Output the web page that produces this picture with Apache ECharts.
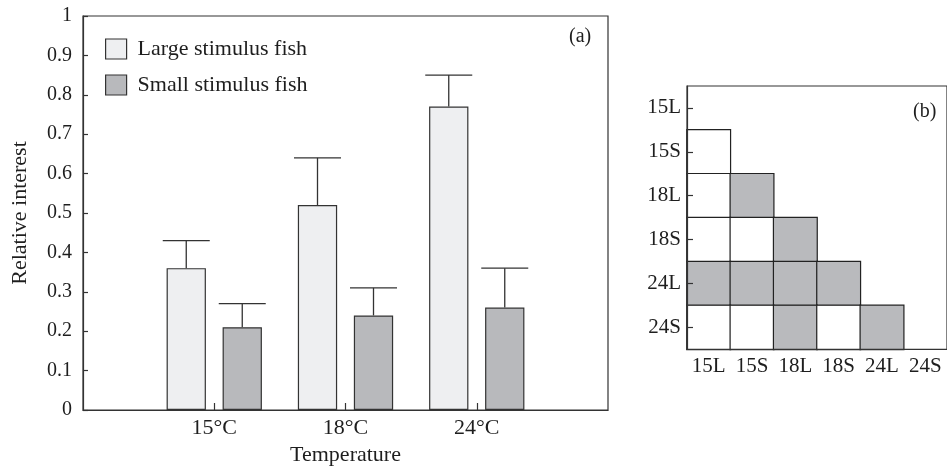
<!DOCTYPE html>
<html>
<head>
<meta charset="utf-8">
<script src="https://cdn.jsdelivr.net/npm/echarts@6/dist/echarts.min.js"></script>
<style>
html,body{margin:0;padding:0;background:#fff;}
#chart{width:947px;height:473px;}
</style>
</head>
<body>
<div id="chart"></div>
<script>
// ---- Panel (a) data ----
const temperatures = ['15°C', '18°C', '24°C'];
const largeMeans = [0.36, 0.52, 0.77];
const largeUpper = [0.43, 0.64, 0.85];
const smallMeans = [0.21, 0.24, 0.26];
const smallUpper = [0.27, 0.31, 0.36];
const seriesNames = ['Large stimulus fish', 'Small stimulus fish'];
const yTicks = [0, 0.1, 0.2, 0.3, 0.4, 0.5, 0.6, 0.7, 0.8, 0.9, 1];

// ---- Panel (b) data ----
const pairLabels = ['15L', '15S', '18L', '18S', '24L', '24S'];
// lower-triangle significance matrix: row i vs columns 0..i-1 (1 = significant / shaded)
const matrixRows = [
  [],
  [0],
  [0, 1],
  [0, 0, 1],
  [1, 1, 1, 1],
  [0, 0, 1, 0, 1]
];

const FONT = 'Liberation Serif';
const INK = '#1e1e1e';
const LARGE_COLOR = '#eeeff1';
const SMALL_COLOR = '#b8b9bc';
const BAR_W = 39.3;
const BAR_GAP = 16.7;
const OFFSET = (BAR_W + BAR_GAP) / 2;
const CAP_W = 47;

// padded category axis so the three temperatures sit at 1,2,3 of 0..4
const xCats = [''].concat(temperatures, ['']);
const pad = arr => [null].concat(arr, [null]);

const errData = [];
temperatures.forEach((t, i) => {
  errData.push([i + 1, largeMeans[i], largeUpper[i], -1]);
  errData.push([i + 1, smallMeans[i], smallUpper[i], 1]);
});

const heatData = [];
matrixRows.forEach((row, r) => {
  row.forEach((v, c) => heatData.push([c, r, v]));
});

const chart = echarts.init(document.getElementById('chart'), null, {renderer: 'canvas'});

const option = {
  animation: false,
  backgroundColor: '#ffffff',
  textStyle: {fontFamily: FONT, color: INK},
  grid: [
    {left: 83, top: 16, width: 525, height: 394, show: true, borderColor: '#333', borderWidth: 1.2, backgroundColor: 'transparent', containLabel: false},
    {left: 687, top: 86, width: 263, height: 263.3, show: true, borderColor: '#333', borderWidth: 1.2, backgroundColor: 'transparent', containLabel: false, z: 5}
  ],
  legend: {
    data: seriesNames,
    orient: 'vertical',
    left: 100, top: 33,
    itemWidth: 21, itemHeight: 20, itemGap: 14,
    icon: 'rect',
    itemStyle: {borderColor: '#333', borderWidth: 1.2},
    textStyle: {fontFamily: FONT, fontSize: 22, color: INK, padding: [0, 0, 0, 6]}
  },
  visualMap: {
    show: false, type: 'piecewise', seriesIndex: 3, dimension: 2,
    pieces: [{value: 0, color: '#ffffff'}, {value: 1, color: '#b9babd'}]
  },
  xAxis: [
    {
      gridIndex: 0, type: 'category', data: xCats, boundaryGap: false,
      axisLine: {lineStyle: {color: '#333', width: 1.2}},
      axisTick: {inside: true, length: 7, lineStyle: {color: '#333', width: 1.2},
        interval: (idx) => idx >= 1 && idx <= temperatures.length},
      axisLabel: {fontFamily: FONT, fontSize: 22, color: INK, margin: 7, interval: 0},
      name: 'Temperature', nameLocation: 'middle', nameGap: 32,
      nameTextStyle: {fontFamily: FONT, fontSize: 22, color: INK},
      splitLine: {show: false}
    },
    {
      gridIndex: 1, type: 'category', data: pairLabels, z: 10,
      axisLine: {lineStyle: {color: '#333', width: 1.2}},
      axisTick: {inside: true, alignWithLabel: true, length: 6, lineStyle: {color: '#333', width: 1.2}},
      axisLabel: {fontFamily: FONT, fontSize: 21, color: INK, margin: 7, interval: 0},
      splitLine: {show: false}
    }
  ],
  yAxis: [
    {
      gridIndex: 0, type: 'value', min: 0, max: 1, interval: 0.1,
      axisLine: {show: true, lineStyle: {color: '#333', width: 1.2}},
      axisTick: {show: true, inside: true, length: 5, lineStyle: {color: '#333', width: 1.2}},
      axisLabel: {fontFamily: FONT, fontSize: 20, color: INK, margin: 11,
        formatter: v => String(yTicks.find(t => Math.abs(t - v) < 1e-6) ?? v)},
      splitLine: {show: false},
      name: 'Relative interest', nameLocation: 'middle', nameGap: 52,
      nameTextStyle: {fontFamily: FONT, fontSize: 22, color: INK}
    },
    {
      gridIndex: 1, type: 'category', data: pairLabels, inverse: true, z: 10,
      axisLine: {show: true, lineStyle: {color: '#333', width: 1.2}},
      axisTick: {show: true, inside: true, alignWithLabel: true, length: 6, lineStyle: {color: '#333', width: 1.2}},
      axisLabel: {fontFamily: FONT, fontSize: 21, color: INK, margin: 6, interval: 0},
      splitLine: {show: false}
    }
  ],
  series: [
    {
      name: seriesNames[0], type: 'bar', xAxisIndex: 0, yAxisIndex: 0,
      data: pad(largeMeans), barWidth: BAR_W, barGap: (BAR_GAP / BAR_W * 100) + '%',
      itemStyle: {color: LARGE_COLOR, borderColor: '#333', borderWidth: 1.2}
    },
    {
      name: seriesNames[1], type: 'bar', xAxisIndex: 0, yAxisIndex: 0,
      data: pad(smallMeans), barWidth: BAR_W, barGap: (BAR_GAP / BAR_W * 100) + '%',
      itemStyle: {color: SMALL_COLOR, borderColor: '#333', borderWidth: 1.2}
    },
    {
      type: 'custom', xAxisIndex: 0, yAxisIndex: 0, z: 1,
      data: errData,
      renderItem: function (params, api) {
        const base = api.coord([api.value(0), api.value(1)]);
        const top = api.coord([api.value(0), api.value(2)]);
        const x = base[0] + api.value(3) * OFFSET;
        const style = {stroke: '#333', lineWidth: 1.3};
        return {
          type: 'group',
          children: [
            {type: 'line', shape: {x1: x, y1: base[1], x2: x, y2: top[1]}, style: style},
            {type: 'line', shape: {x1: x - CAP_W / 2, y1: top[1], x2: x + CAP_W / 2, y2: top[1]}, style: style}
          ]
        };
      }
    },
    {
      type: 'heatmap', xAxisIndex: 1, yAxisIndex: 1, z: 1,
      data: heatData,
      itemStyle: {borderColor: '#222', borderWidth: 1.2},
      emphasis: {disabled: true}
    }
  ],
  graphic: [
    {type: 'text', left: 569, top: 27, style: {text: '(a)', font: '20px "Liberation Serif"', fill: INK}},
    {type: 'text', left: 913, top: 102, style: {text: '(b)', font: '20px "Liberation Serif"', fill: INK}}
  ]
};

chart.setOption(option);
</script>
</body>
</html>
